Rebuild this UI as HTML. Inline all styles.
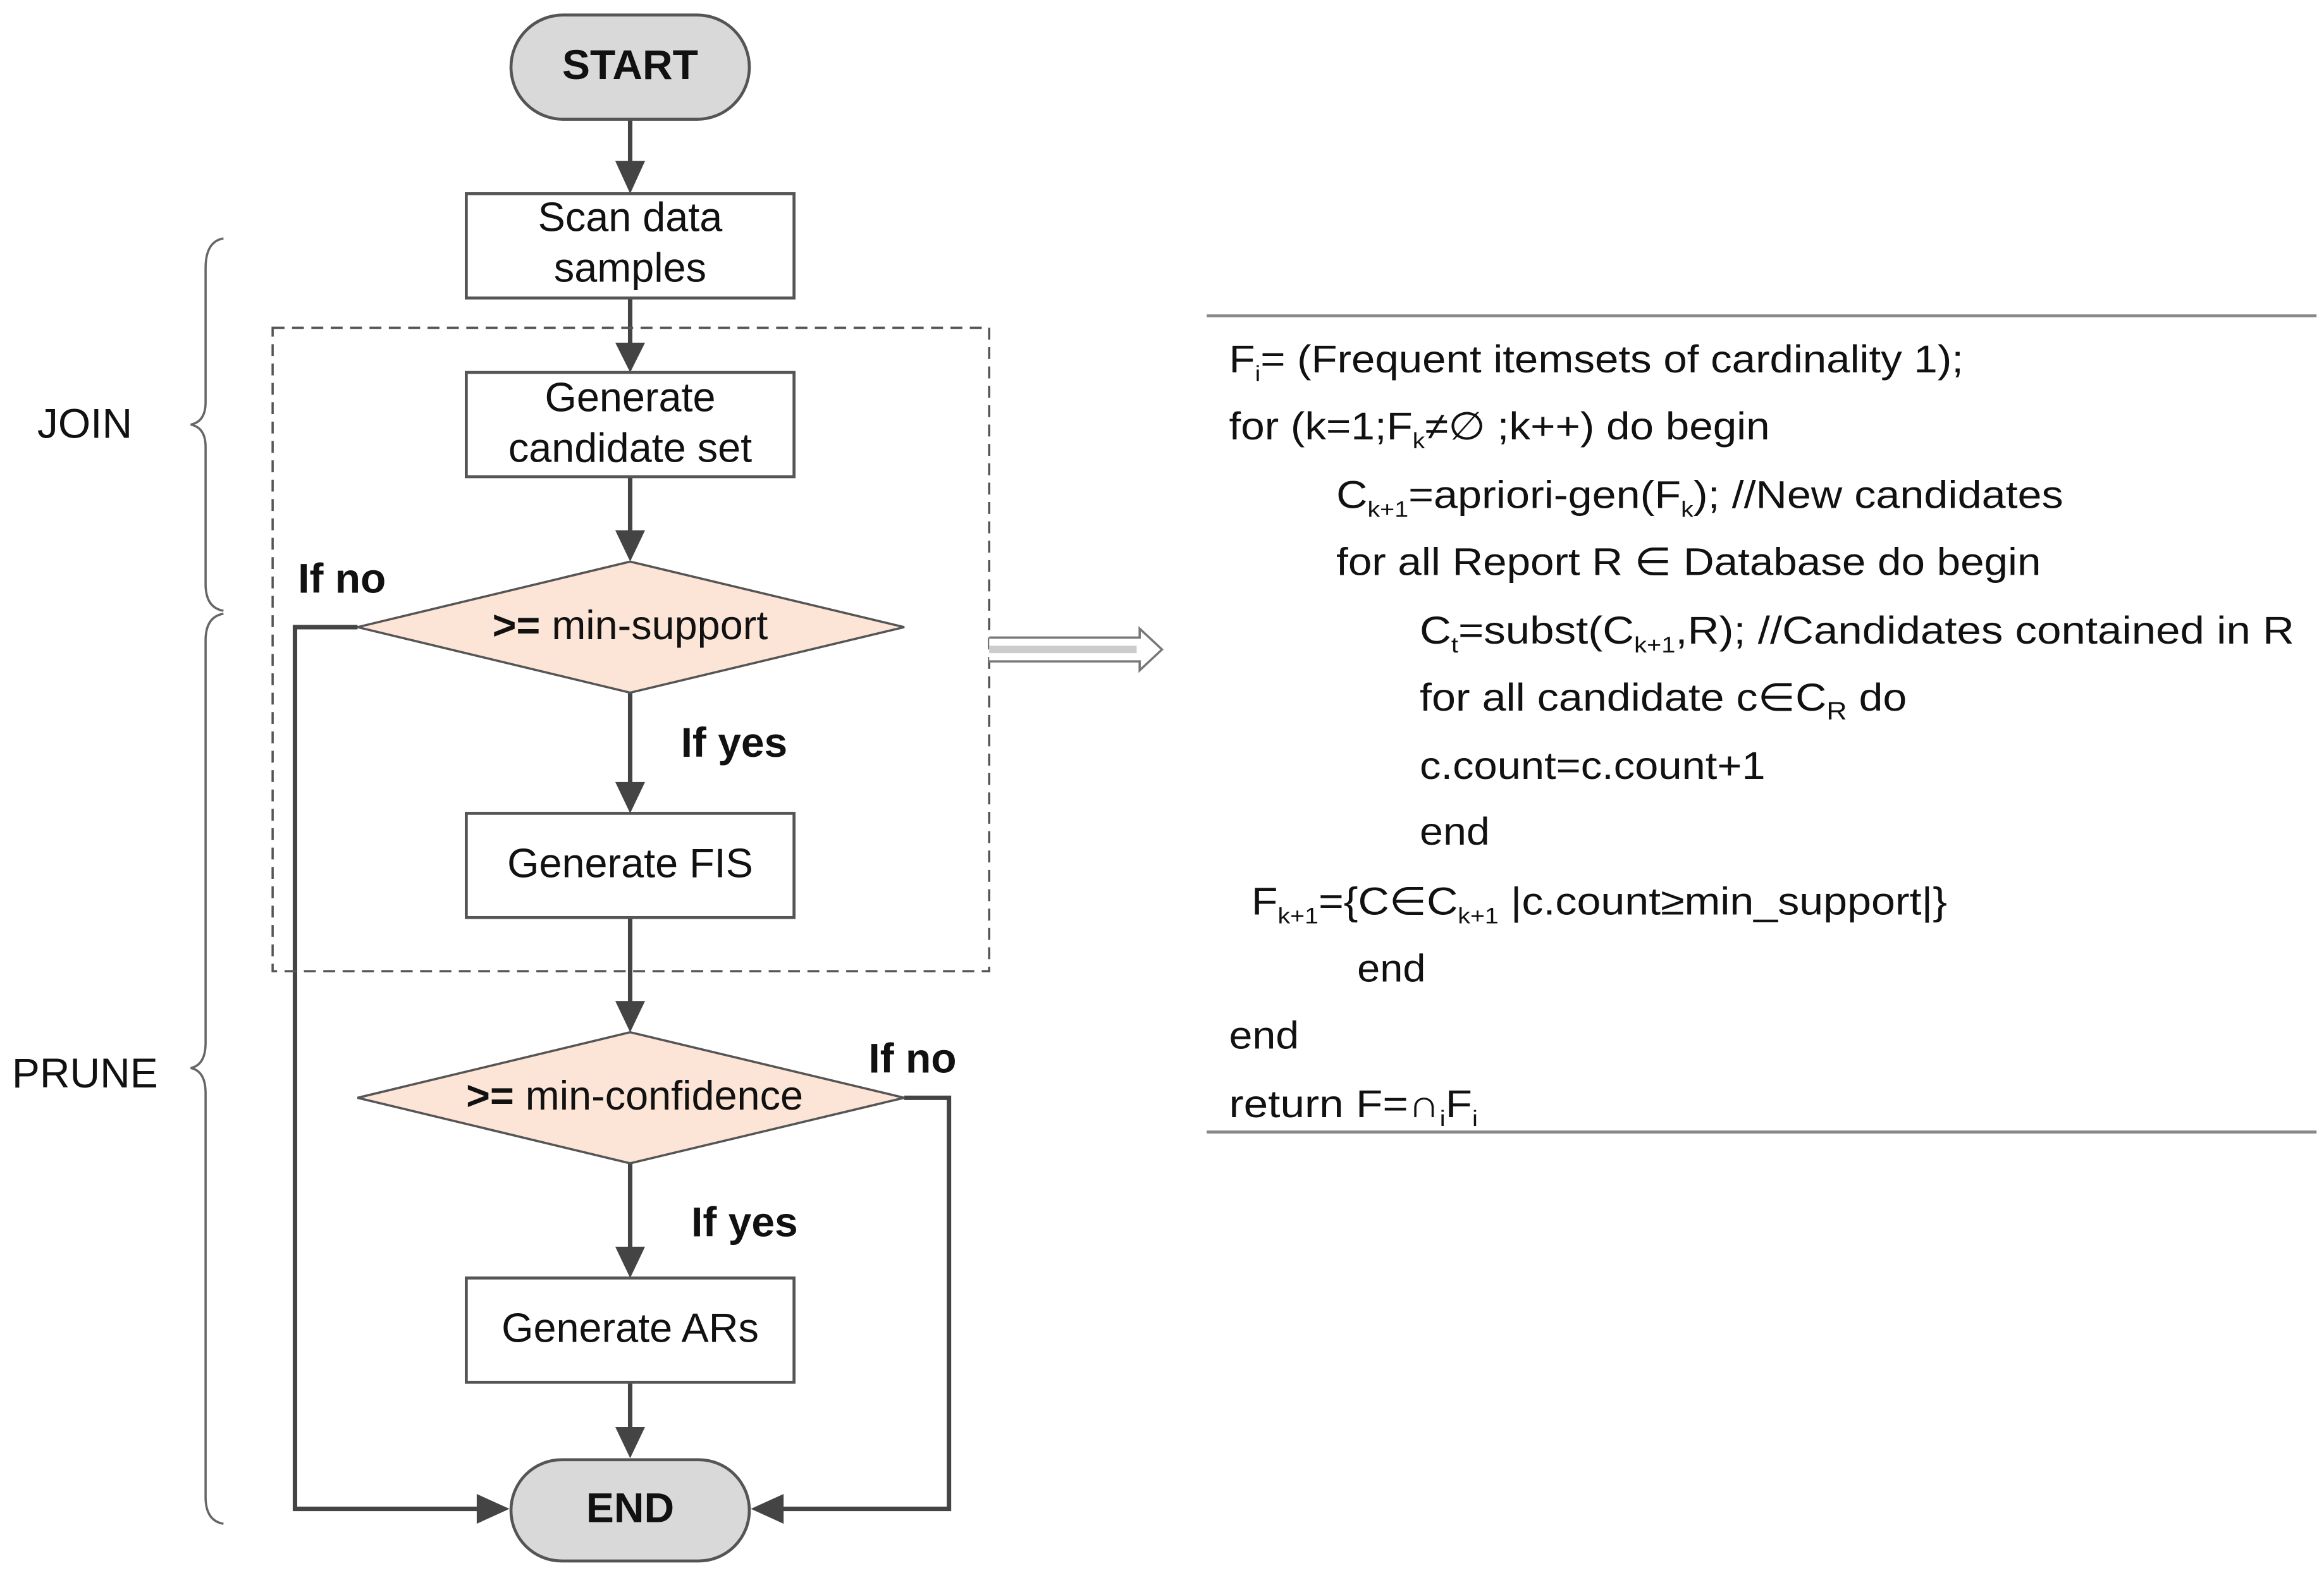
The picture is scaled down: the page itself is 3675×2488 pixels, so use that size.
<!DOCTYPE html>
<html><head><meta charset="utf-8"><style>html,body{margin:0;padding:0;background:#fff}svg{display:block}</style></head>
<body>
<svg width="3675" height="2488" viewBox="0 0 1560 1056" xmlns="http://www.w3.org/2000/svg" font-family="Liberation Sans, DejaVu Sans, sans-serif">
<g stroke="#444" stroke-width="3" fill="none">
<line x1="423" y1="80" x2="423" y2="110"/>
<line x1="423" y1="200" x2="423" y2="232"/>
<line x1="423" y1="320" x2="423" y2="358"/>
<line x1="423" y1="465" x2="423" y2="527"/>
<line x1="423" y1="616" x2="423" y2="674"/>
<line x1="423" y1="781" x2="423" y2="839"/>
<line x1="423" y1="928" x2="423" y2="960"/>
<polyline points="240,421 198,421 198,1013 322,1013"/>
<polyline points="607,737 637,737 637,1013 524,1013"/>
</g>
<g fill="#444">
<polygon points="413,108 433,108 423,130"/>
<polygon points="413,230 433,230 423,250"/>
<polygon points="413,356 433,356 423,377"/>
<polygon points="413,525 433,525 423,546"/>
<polygon points="413,672 433,672 423,693"/>
<polygon points="413,837 433,837 423,858"/>
<polygon points="413,958 433,958 423,979"/>
<polygon points="320,1003 320,1023 342,1013"/>
<polygon points="526,1003 526,1023 504,1013"/>
</g>
<rect x="183" y="220" width="481" height="432" fill="none" stroke="#555" stroke-width="1.5" stroke-dasharray="8,5"/>
<rect x="343" y="10" width="160" height="70" rx="35" fill="#d9d9d9" stroke="#555" stroke-width="2"/>
<rect x="343" y="980" width="160" height="68" rx="34" fill="#d9d9d9" stroke="#555" stroke-width="2"/>
<g fill="#fff" stroke="#555" stroke-width="2">
<rect x="313" y="130" width="220" height="70"/>
<rect x="313" y="250" width="220" height="70"/>
<rect x="313" y="546" width="220" height="70"/>
<rect x="313" y="858" width="220" height="70"/>
</g>
<g fill="#fce4d6" stroke="#555" stroke-width="1.5">
<polygon points="240,421 423,377 607,421 423,465"/>
<polygon points="240,737 423,693 607,737 423,781"/>
</g>
<g font-size="27.5" text-anchor="middle" fill="#111">
<text x="423" y="53" font-weight="bold" font-size="28">START</text>
<text x="423" y="1022" font-weight="bold" font-size="28">END</text>
<text x="423" y="155">Scan data</text>
<text x="423" y="189">samples</text>
<text x="423" y="276">Generate</text>
<text x="423" y="310">candidate set</text>
<text x="423" y="589">Generate FIS</text>
<text x="423" y="901">Generate ARs</text>
<text x="423" y="429"><tspan font-weight="bold">&gt;=</tspan> min-support</text>
<text x="426" y="745"><tspan font-weight="bold">&gt;=</tspan> min-confidence</text>
</g>
<g font-size="28" font-weight="bold" fill="#111">
<text x="200" y="398">If no</text>
<text x="457" y="508">If yes</text>
<text x="583" y="720">If no</text>
<text x="464" y="830">If yes</text>
</g>
<g font-size="28" fill="#111">
<text x="25" y="294">JOIN</text>
<text x="8" y="730">PRUNE</text>
</g>
<g fill="none" stroke="#666" stroke-width="1.5">
<path d="M150,160 Q138,162 138,180 L138,270 Q138,283 128,285 Q138,287 138,300 L138,392 Q138,408 150,410"/>
<path d="M150,412 Q138,414 138,430 L138,700 Q138,715 128,717 Q138,719 138,734 L138,1005 Q138,1021 150,1023"/>
</g>
<path d="M664,428 L765,428 L765,422 L780,436 L765,450 L765,444 L664,444" fill="#fff" stroke="#777" stroke-width="1.5"/>
<line x1="664" y1="436" x2="763" y2="436" stroke="#ccc" stroke-width="5"/>
<line x1="810" y1="212" x2="1555" y2="212" stroke="#888" stroke-width="2"/>
<line x1="810" y1="760" x2="1555" y2="760" stroke="#888" stroke-width="2"/>
<g font-size="26" fill="#111" lengthAdjust="spacingAndGlyphs">
<text x="825" y="250" textLength="493" lengthAdjust="spacingAndGlyphs">F<tspan font-size="15" dy="6">i</tspan><tspan dy="-6">= (Frequent itemsets of cardinality 1);</tspan></text>
<text x="825" y="295" textLength="363" lengthAdjust="spacingAndGlyphs">for (k=1;F<tspan font-size="15" dy="6">k</tspan><tspan dy="-6">≠∅ ;k++) do begin</tspan></text>
<text x="897" y="341" textLength="488" lengthAdjust="spacingAndGlyphs">C<tspan font-size="15" dy="6">k+1</tspan><tspan dy="-6">=apriori-gen(F</tspan><tspan font-size="15" dy="6">k</tspan><tspan dy="-6">); //New candidates</tspan></text>
<text x="897" y="386" textLength="473" lengthAdjust="spacingAndGlyphs">for all Report  R ∈  Database do begin</text>
<text x="953" y="432" textLength="587" lengthAdjust="spacingAndGlyphs">C<tspan font-size="15" dy="6">t</tspan><tspan dy="-6">=subst(C</tspan><tspan font-size="15" dy="6">k+1</tspan><tspan dy="-6">,R); //Candidates contained in  R</tspan></text>
<text x="953" y="477" textLength="327" lengthAdjust="spacingAndGlyphs">for all candidate  c∈C<tspan font-size="17" dy="6">R</tspan><tspan dy="-6">  do</tspan></text>
<text x="953" y="523" textLength="232" lengthAdjust="spacingAndGlyphs">c.count=c.count+1</text>
<text x="953" y="567" textLength="47" lengthAdjust="spacingAndGlyphs">end</text>
<text x="840" y="614" textLength="467" lengthAdjust="spacingAndGlyphs">F<tspan font-size="15" dy="6">k+1</tspan><tspan dy="-6">={C∈C</tspan><tspan font-size="15" dy="6">k+1</tspan><tspan dy="-6"> |c.count≥min_support|}</tspan></text>
<text x="911" y="659" textLength="46" lengthAdjust="spacingAndGlyphs">end</text>
<text x="825" y="704" textLength="47" lengthAdjust="spacingAndGlyphs">end</text>
<text x="825" y="750" textLength="167" lengthAdjust="spacingAndGlyphs">return  F=∩<tspan font-size="15" dy="6">i</tspan><tspan dy="-6">F</tspan><tspan font-size="15" dy="6">i</tspan></text>
</g>
</svg>
</body></html>
